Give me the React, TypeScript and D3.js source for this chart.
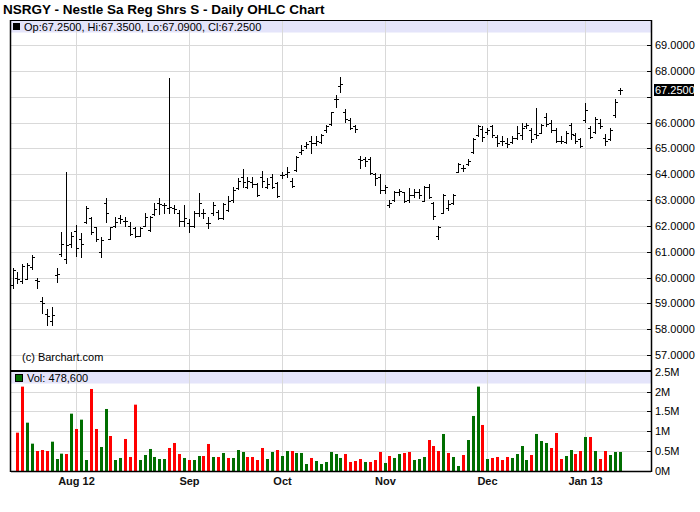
import React from "react";
import * as d3 from "d3";

const TITLE = "NSRGY - Nestle Sa Reg Shrs S - Daily OHLC Chart";
const START = "2012-07-13";
const END = "2013-01-11";
const HOLIDAYS = ["2012-09-03", "2012-10-29", "2012-10-30", "2012-11-22", "2012-12-25", "2013-01-01"];
const MONTH_LABELS = ["Aug 12", "Sep", "Oct", "Nov", "Dec", "Jan 13"];

const OPEN = [59.7,60.0,59.85,59.95,60.4,59.9,59.1,58.6,58.3,60.1,60.9,60.7,61.3,61.8,61.5,62.15,62.3,61.95,61.0,62.9,61.5,62.0,62.3,62.2,62.0,61.9,61.6,62.0,61.85,62.45,62.9,62.8,62.7,62.7,62.5,62.2,62.1,62.0,62.5,62.5,62.1,62.5,62.55,62.3,62.6,63.0,63.45,63.9,63.5,63.7,63.6,63.9,63.5,63.9,63.65,63.95,64.0,63.75,64.15,64.85,65.1,65.3,65.2,65.25,65.7,65.95,66.9,67.4,66.4,66.1,65.85,64.6,64.6,64.6,64.0,63.9,63.4,62.8,63.0,63.3,63.3,63.0,63.2,63.3,62.97,63.5,62.9,61.6,62.5,62.7,62.9,64.1,64.25,64.4,64.85,65.5,65.75,65.65,65.85,65.45,65.3,65.2,65.25,65.4,65.5,65.85,65.7,65.55,65.6,66.2,66.0,65.7,65.3,65.25,65.9,65.5,65.35,66.1,65.8,65.65,66.0,65.4,65.35,66.3,67.25];
const HIGH = [60.35,60.2,60.52,60.55,60.87,59.97,59.23,58.77,58.85,60.35,61.75,64.07,61.75,62.03,61.71,62.77,62.35,61.97,61.58,63.06,61.97,62.35,62.42,62.35,62.13,61.94,61.94,62.51,62.38,62.87,63.06,62.9,67.74,62.8,62.61,62.8,62.25,62.59,63.26,62.64,62.35,62.94,62.61,62.9,63.15,63.49,63.84,64.19,63.9,63.9,63.65,64.12,63.84,63.99,63.71,64.1,64.26,63.84,64.7,65.13,65.26,65.48,65.48,65.56,65.9,66.42,67.06,67.77,66.51,66.16,65.9,64.7,64.65,64.65,64.03,63.99,63.58,63.0,63.36,63.41,63.32,63.45,63.42,63.41,63.54,63.62,62.93,61.99,63.23,63.0,63.23,64.42,64.35,64.57,65.39,65.9,65.86,65.77,65.9,65.52,65.48,65.39,65.48,65.86,65.99,65.99,65.77,66.55,65.94,66.38,66.1,65.77,65.48,65.68,65.99,65.61,65.39,66.74,65.86,66.23,66.12,65.55,65.77,66.9,67.35];
const LOW = [59.6,59.8,59.77,59.93,60.32,59.58,58.64,58.17,58.17,59.84,60.85,60.57,61.17,60.83,60.81,62.1,61.67,61.43,60.81,62.14,61.48,61.94,62.12,61.99,61.64,61.55,61.6,61.99,61.81,62.42,62.46,62.48,62.51,62.51,61.99,61.99,61.77,61.97,62.38,62.29,61.9,62.42,62.25,62.25,62.59,62.94,63.41,63.52,63.45,63.52,63.15,63.52,63.45,63.45,63.1,63.84,63.9,63.49,64.13,64.77,65.0,64.83,65.13,65.22,65.64,65.9,66.61,67.19,66.03,65.73,65.64,64.23,64.32,63.99,63.58,63.28,63.26,62.71,62.97,63.19,62.91,62.93,63.1,63.06,62.96,63.09,62.25,61.5,62.48,62.61,62.84,64.1,64.13,64.35,64.83,65.48,65.3,65.55,65.45,65.09,65.13,65.07,65.22,65.35,65.35,65.77,65.26,65.39,65.58,65.86,65.64,65.26,65.22,65.22,65.35,65.22,65.04,66.03,65.39,65.61,65.77,65.13,65.32,66.23,67.09];
const CLOSE = [60.3,59.95,60.45,60.5,60.8,59.85,59.0,58.5,58.55,60.15,61.3,61.26,61.6,61.15,61.3,62.7,61.75,61.5,61.45,62.5,61.95,62.15,62.25,62.2,61.7,61.6,61.9,62.35,62.35,62.65,62.85,62.8,62.72,62.65,62.2,62.3,62.0,62.5,62.9,62.5,62.1,62.8,62.3,62.85,62.95,63.4,63.75,63.7,63.75,63.6,63.2,63.75,63.6,63.5,63.15,63.95,64.1,63.55,64.65,64.95,65.15,65.2,65.3,65.5,65.85,66.4,66.9,67.5,66.15,65.8,65.75,64.55,64.5,64.05,63.85,63.4,63.5,62.9,63.3,63.35,62.95,63.2,63.3,63.2,63.5,63.1,62.4,61.95,63.2,62.85,63.2,64.4,64.25,64.5,65.38,65.85,65.45,65.7,65.5,65.2,65.3,65.15,65.4,65.6,65.8,65.9,65.35,65.5,65.9,65.95,65.7,65.3,65.3,65.6,65.55,65.3,65.1,66.5,65.45,66.15,65.85,65.3,65.7,66.8,67.25];
// volume in thousands of shares (first session has no volume bar)
const VOLUME = [null,966,2126,1218,689,504,529,504,739,302,437,428,1445,1059,1294,277,2067,1059,605,1563,882,277,328,807,353,1672,277,403,555,353,302,302,580,706,428,328,277,277,378,378,681,353,353,454,328,328,529,479,353,353,277,580,302,479,529,378,504,504,454,454,176,328,252,176,227,479,428,328,428,227,252,302,227,227,277,479,202,378,328,428,454,479,277,302,353,781,630,504,933,454,353,126,403,781,1387,2126,1160,302,328,353,277,353,328,428,630,277,403,933,756,706,580,958,302,378,529,428,504,857,857,504,302,504,403,479,478.6];
const VOL_DIR = ("g" + "rrgg" + "rrrg" + "ggrg" + "rggr" + "rggr" + "ggrr" + "rggg" + "gggr" + "rrgr" + "ggrr" + "grgr" + "gg" +
  "grrr" + "rggr" + "ggrg" + "ggrg" + "gggg" + "grrr" + "rgrr" + "rgrg" + "grrg" + "ggrr" + "rgrg" + "grgg" + "grgr" +
  "rrrg" + "gggr" + "gggr" + "rrgg" + "rrgr" + "grrg" + "gg").split("");
const PRICE_TICKS = [57, 58, 59, 60, 61, 62, 63, 64, 65, 66, 67, 68, 69];
const VOL_TICKS = [0, 0.5, 1, 1.5, 2, 2.5];

const fmtDay = d3.timeFormat("%Y-%m-%d");
const DATES: Date[] = d3.timeDay
  .range(d3.timeParse("%Y-%m-%d")(START)!, d3.timeDay.offset(d3.timeParse("%Y-%m-%d")(END)!, 1))
  .filter((d) => d.getDay() !== 0 && d.getDay() !== 6 && !HOLIDAYS.includes(fmtDay(d)));

const FONT = "'Liberation Sans', Arial, Helvetica, sans-serif";
const GRID = "#d9d9d9";
const BAND = "#e4e4fa";
const RED = "#ff0000";
const GREEN = "#006e00";

export default function App() {
  const L = 11, R = 651;
  const x = d3.scaleLinear().domain([0, DATES.length - 1]).range([12.5, 619.5]);
  const yP = d3.scaleLinear().domain([57, 69]).range([355, 45]);
  const yV = d3.scaleLinear().domain([0, 2.5]).range([471, 371.8]);
  const px = (i: number) => Math.round(x(i)) + 0.5;
  const py = (v: number) => Math.round(yP(v)) + 0.5;

  const monthIdx: number[] = [];
  DATES.forEach((d, i) => {
    if (i > 0 && d.getMonth() !== DATES[i - 1].getMonth()) monthIdx.push(i);
  });

  const last = CLOSE[CLOSE.length - 1];
  const fmt4 = d3.format(".4f");
  const fmtVol = (v: number) => (v === 0 ? "0M" : `${v}M`);
  const lastY = yP(last);

  return (
    <svg width={700} height={512} style={{ position: "absolute", left: 0, top: 0, background: "#fff" }} fontFamily={FONT}>
      <text x={3} y={14} fontSize={13.5} fontWeight="bold" fill="#000">{TITLE}</text>

      {/* price panel background band */}
      <rect x={L} y={20.5} width={R - L} height={12} fill={BAND} />
      {/* volume panel band */}
      <rect x={L} y={372} width={R - L} height={11.5} fill={BAND} />

      {/* horizontal price grid */}
      {PRICE_TICKS.map((t) => (
        <line key={"pg" + t} x1={L} x2={R} y1={py(t)} y2={py(t)} stroke={GRID} />
      ))}
      {VOL_TICKS.filter((t) => t > 0 && t < 2.5).map((t) => (
        <line key={"vg" + t} x1={L} x2={R} y1={Math.round(yV(t)) + 0.5} y2={Math.round(yV(t)) + 0.5} stroke={GRID} />
      ))}
      {/* vertical month grid */}
      {monthIdx.map((i) => (
        <g key={"mg" + i}>
          <line x1={px(i)} x2={px(i)} y1={21} y2={370} stroke={GRID} />
          <line x1={px(i)} x2={px(i)} y1={372} y2={471} stroke={GRID} />
        </g>
      ))}

      {/* headers */}
      <rect x={13.5} y={23.5} width={6} height={6} fill="#000" stroke="#000" />
      <text x={24} y={31} fontSize={11} fill="#000">
        {`Op:${fmt4(OPEN[OPEN.length - 1])}, Hi:${fmt4(HIGH[HIGH.length - 1])}, Lo:${fmt4(LOW[LOW.length - 1])}, Cl:${fmt4(last)}`}
      </text>
      <rect x={15.5} y={374.5} width={7} height={7} fill={GREEN} stroke="#000" />
      <text x={27} y={382} fontSize={11} fill="#000">
        {`Vol: ${d3.format(",")(Math.round((VOLUME[VOLUME.length - 1] as number) * 1000))}`}
      </text>
      <text x={22} y={361} fontSize={11} fill="#000">(c) Barchart.com</text>

      {/* OHLC bars */}
      {OPEN.map((o, i) => {
        const cx = px(i);
        return (
          <g key={"b" + i} stroke="#000" strokeWidth={1}>
            <line x1={cx} x2={cx} y1={Math.round(yP(HIGH[i]))} y2={Math.round(yP(LOW[i])) + 1} />
            <line x1={cx - 2.5} x2={cx} y1={py(o)} y2={py(o)} />
            <line x1={cx} x2={cx + 2.5} y1={py(CLOSE[i])} y2={py(CLOSE[i])} />
          </g>
        );
      })}

      {/* volume bars */}
      {VOLUME.map((v, i) =>
        v == null ? null : (
          <rect
            key={"v" + i}
            x={Math.round(x(i)) - 1}
            y={yV(v / 1000)}
            width={3}
            height={471 - yV(v / 1000)}
            fill={VOL_DIR[i] === "r" ? RED : GREEN}
          />
        )
      )}

      {/* frame */}
      <line x1={L} x2={R} y1={20.5} y2={20.5} stroke="#000" />
      <line x1={L - 0.5} x2={L - 0.5} y1={20} y2={472} stroke="#000" strokeWidth={1.5} />
      <line x1={R + 0.5} x2={R + 0.5} y1={20} y2={472} stroke="#000" strokeWidth={1.5} />
      <line x1={L} x2={R} y1={371} y2={371} stroke="#000" strokeWidth={2} />
      <line x1={L} x2={R} y1={471.5} y2={471.5} stroke="#000" strokeWidth={1.5} />

      {/* price axis */}
      {PRICE_TICKS.map((t) => (
        <g key={"pt" + t}>
          <line x1={R - 4} x2={R} y1={py(t)} y2={py(t)} stroke="#000" />
          {Math.abs(yP(t) - lastY) > 11 && (
            <text x={655} y={yP(t) + 4} fontSize={11} fill="#000">{fmt4(t)}</text>
          )}
        </g>
      ))}
      <rect x={654} y={Math.round(lastY) - 6} width={40} height={12} fill="#000" />
      <text x={655} y={lastY + 4} fontSize={11} fill="#fff">{fmt4(last)}</text>

      {/* volume axis */}
      {VOL_TICKS.map((t) => (
        <g key={"vt" + t}>
          {t < 2.5 && <line x1={R - 4} x2={R} y1={Math.round(yV(t)) + 0.5} y2={Math.round(yV(t)) + 0.5} stroke="#000" />}
          <text x={655} y={yV(t) + 4} fontSize={11} fill="#000">{fmtVol(t)}</text>
        </g>
      ))}

      {/* month labels */}
      {monthIdx.map((i, k) => (
        <text key={"ml" + i} x={px(i)} y={485} fontSize={11} fontWeight="bold" textAnchor="middle" fill="#111">
          {MONTH_LABELS[k]}
        </text>
      ))}
    </svg>
  );
}
